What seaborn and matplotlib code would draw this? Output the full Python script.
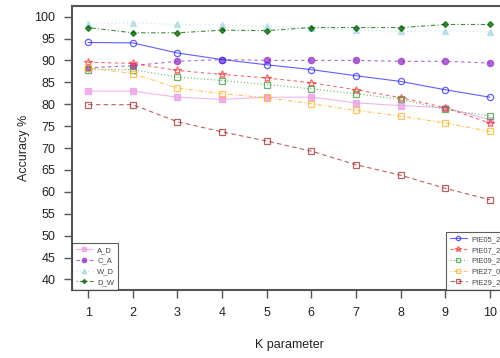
import numpy as np
import pandas as pd
import matplotlib
matplotlib.use("Agg")
import matplotlib.pyplot as plt
import seaborn as sns

k = [1, 2, 3, 4, 5, 6, 7, 8, 9, 10]

a_d = [83.0, 83.0, 81.6, 81.1, 81.6, 81.6, 80.3, 79.7, 79.2, 76.5]
c_a = [88.3, 88.8, 89.8, 90.2, 90.0, 90.0, 90.0, 89.8, 89.8, 89.4]
w_d = [98.2, 98.6, 98.2, 98.1, 97.8, 97.4, 96.9, 96.6, 96.8, 96.5]
d_w = [97.5, 96.3, 96.3, 96.9, 96.8, 97.5, 97.5, 97.5, 98.2, 98.2]
pie05 = [94.1, 94.0, 91.7, 90.2, 89.0, 87.9, 86.5, 85.2, 83.3, 81.6]
pie07 = [89.6, 89.3, 87.7, 86.8, 86.0, 84.9, 83.3, 81.5, 79.2, 75.7]
pie09 = [87.9, 87.9, 86.2, 85.4, 84.5, 83.5, 82.4, 81.1, 78.8, 77.3]
pie27 = [88.3, 87.0, 83.7, 82.4, 81.5, 80.1, 78.6, 77.3, 75.7, 73.8]
pie29 = [79.9, 79.9, 76.0, 73.7, 71.6, 69.3, 66.2, 63.8, 60.8, 58.2]

names1 = ["A_D", "C_A", "W_D", "D_W"]
names2 = ["PIE05_20", "PIE07_20", "PIE09_20", "PIE27_05", "PIE29_20"]

sns.set_style("white")
plt.rcParams['font.family'] = ['Liberation Sans', 'DejaVu Sans']

fig = plt.figure(figsize=(5, 3.58), dpi=100)
ax = fig.add_axes([0.144, 0.19, 0.868, 0.793])

# (values, color, linestyle, marker, filled, size)
styles = [
    (a_d, "#ee9be8", "-", "s", True, 4),
    (c_a, "#9932cc", (0, (3, 3)), "o", True, 4.5),
    (w_d, "#a8d8e6", (0, (1, 2.5)), "^", True, 5),
    (d_w, "#006400", (0, (1, 2, 4, 2)), "D", True, 3),
    (pie05, "#2a2aff", "-", "o", False, 4.5),
    (pie07, "#ff3030", (0, (3, 3)), "*", False, 6),
    (pie09, "#3a9a3a", (0, (1, 2)), "s", False, 4.5),
    (pie27, "#ffb020", (0, (1, 2, 4, 2)), "s", False, 4.5),
    (pie29, "#a52a2a", (0, (4, 3)), "s", False, 4.5),
]

for vals, col, ls, mk, filled, ms in styles:
    sns.lineplot(x=k, y=vals, ax=ax, color=col, linestyle=ls, linewidth=0.8,
                 marker=mk, markersize=ms, markeredgecolor=col,
                 markerfacecolor=col if filled else "none",
                 markeredgewidth=0.9, alpha=0.75)

ax.set_xlim(0.64, 10.36)
ax.set_ylim(37.6, 102.4)
ax.set_xticks(k)
ax.set_yticks(range(40, 101, 5))
ax.tick_params(axis="both", direction="out", length=6, width=1, color="#555555",
               labelsize=9, labelcolor="#222222", bottom=True, left=True, pad=6)
for s in ax.spines.values():
    s.set_color("#555555")
    s.set_linewidth(1.5)

ax.set_xlabel("K parameter", fontsize=9, color="#222222", labelpad=15)
ax.set_ylabel("Accuracy %", fontsize=9, color="#222222", labelpad=3)

lines = ax.get_lines()
leg1 = ax.legend(lines[:4], names1, loc="lower left", bbox_to_anchor=(0, 0),
                 borderaxespad=0, fontsize=5.5, frameon=True, fancybox=False,
                 handlelength=2.2, labelspacing=0.45, handletextpad=0.6,
                 borderpad=0.5, markerscale=0.7)
leg1.get_frame().set_edgecolor("#333333")
leg1.get_frame().set_linewidth(0.8)
for t in leg1.get_texts():
    t.set_color("#444444")
ax.add_artist(leg1)

leg2 = ax.legend(lines[4:], names2, loc="lower left", bbox_to_anchor=(0.862, 0),
                 borderaxespad=0, fontsize=5.5, frameon=True, fancybox=False,
                 handlelength=2.2, labelspacing=0.45, handletextpad=0.6,
                 borderpad=0.5, markerscale=0.7)
leg2.get_frame().set_edgecolor("#333333")
leg2.get_frame().set_linewidth(0.8)
for t in leg2.get_texts():
    t.set_color("#444444")

fig.savefig("out.png", dpi=100)
